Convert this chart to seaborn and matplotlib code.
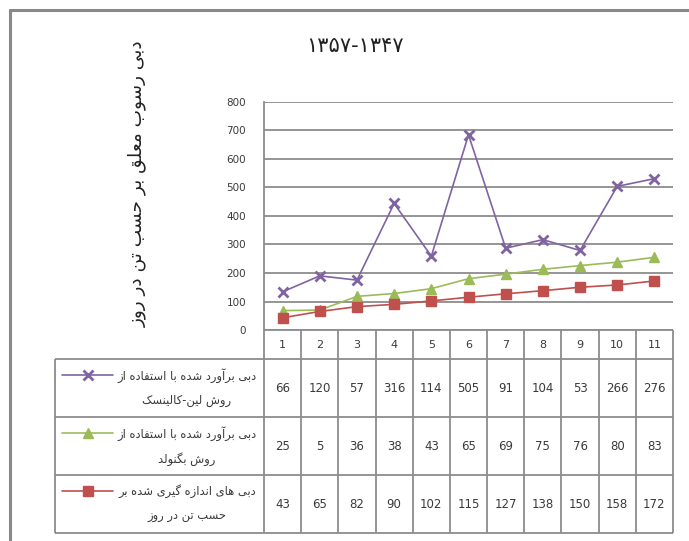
import numpy as np
import pandas as pd
import matplotlib
matplotlib.use("Agg")
import matplotlib.pyplot as plt
from matplotlib.lines import Line2D
import seaborn as sns

# values (lines are stacked)
years = list(range(1, 12))
lane_kalinske = [66, 120, 57, 316, 114, 505, 91, 104, 53, 266, 276]
bagnold = [25, 5, 36, 38, 43, 65, 69, 75, 76, 80, 83]
measured = [43, 65, 82, 90, 102, 115, 127, 138, 150, 158, 172]
yticks = [0, 100, 200, 300, 400, 500, 600, 700, 800]

title_text = "۱۳۵۷-۱۳۴۷"
ylabel_text = "دبی رسوب معلق بر حسب تن در روز"
row_labels = [
    ("دبی برآورد شده با استفاده از", "روش لین-کالینسک"),
    ("دبی برآورد شده با استفاده از", "روش بگنولد"),
    ("دبی های اندازه گیری شده بر", "حسب تن در روز"),
]

# simple persian shaping: (isolated, final, initial, medial)
forms = {
    "ا": ("\uFE8D", "\uFE8E"), "آ": ("\uFE81", "\uFE82"),
    "د": ("\uFEA9", "\uFEAA"), "ر": ("\uFEAD", "\uFEAE"),
    "ز": ("\uFEAF", "\uFEB0"), "و": ("\uFEED", "\uFEEE"),
    "ب": ("\uFE8F", "\uFE90", "\uFE91", "\uFE92"),
    "ت": ("\uFE95", "\uFE96", "\uFE97", "\uFE98"),
    "ح": ("\uFEA1", "\uFEA2", "\uFEA3", "\uFEA4"),
    "س": ("\uFEB1", "\uFEB2", "\uFEB3", "\uFEB4"),
    "ش": ("\uFEB5", "\uFEB6", "\uFEB7", "\uFEB8"),
    "ع": ("\uFEC9", "\uFECA", "\uFECB", "\uFECC"),
    "ف": ("\uFED1", "\uFED2", "\uFED3", "\uFED4"),
    "ق": ("\uFED5", "\uFED6", "\uFED7", "\uFED8"),
    "ل": ("\uFEDD", "\uFEDE", "\uFEDF", "\uFEE0"),
    "م": ("\uFEE1", "\uFEE2", "\uFEE3", "\uFEE4"),
    "ن": ("\uFEE5", "\uFEE6", "\uFEE7", "\uFEE8"),
    "ه": ("\uFEE9", "\uFEEA", "\uFEEB", "\uFEEC"),
    "ی": ("\uFBFC", "\uFBFD", "\uFBFE", "\uFBFF"),
    "ک": ("\uFB8E", "\uFB8F", "\uFB90", "\uFB91"),
    "گ": ("\uFB92", "\uFB93", "\uFB94", "\uFB95"),
}


def fa(text):
    out = []
    for i, c in enumerate(text):
        if c not in forms:
            out.append(c)
            continue
        f = forms[c]
        prev = text[i - 1] if i > 0 else ""
        nxt = text[i + 1] if i + 1 < len(text) else ""
        join_prev = prev in forms and len(forms[prev]) == 4
        join_next = len(f) == 4 and nxt in forms
        if join_prev and join_next:
            out.append(f[3])
        elif join_prev:
            out.append(f[1])
        elif join_next:
            out.append(f[2])
        else:
            out.append(f[0])
    return "".join(out)[::-1]


sns.set_style("white")
plt.rcParams["font.family"] = ["DejaVu Sans"]

df = pd.DataFrame({"year": years, "lk": lane_kalinske, "bg": bagnold, "ms": measured})
df["ms_line"] = df["ms"]
df["bg_line"] = df["ms"] + df["bg"]
df["lk_line"] = df["ms"] + df["bg"] + df["lk"]

purple, green, red = "#8064A2", "#9BBB59", "#C0504D"
grid_c = "#8c8c8c"
text_c = "#3a3a3a"

fig = plt.figure(figsize=(6.89, 5.41), dpi=100)
ax = fig.add_axes([264 / 689, 211 / 541, 409 / 689, 228 / 541])

series = [
    ("lk_line", purple, "x", 6.5, 2.0),
    ("bg_line", green, "^", 7, 1.0),
    ("ms_line", red, "s", 7, 1.0),
]
for col, c, m, ms, mew in series:
    sns.lineplot(data=df, x="year", y=col, ax=ax, color=c, marker=m,
                 markersize=ms, markeredgewidth=mew, markeredgecolor=c,
                 linewidth=1.2, zorder=3)

ax.set_xlim(0.5, 11.5)
ax.set_ylim(0, 800)
ax.set_yticks(yticks)
ax.set_xticks([])
ax.set_xlabel("")
ax.set_ylabel("")
ax.yaxis.grid(True, color=grid_c, linewidth=1.3)
ax.set_axisbelow(True)
for s in ["top", "right", "bottom"]:
    ax.spines[s].set_visible(False)
ax.spines["left"].set_color(grid_c)
ax.spines["left"].set_linewidth(1.3)
ax.tick_params(axis="y", length=0, pad=13, labelsize=7.5, labelcolor=text_c)

# data table under the plot
unit = 409 / 11
x0 = 0.5 - 209 / unit
tab = fig.add_axes([55 / 689, 8 / 541, 618 / 689, 203 / 541])
tab.set_xlim(x0, 11.5)
tab.set_ylim(3.5, 0)
tab.axis("off")

tab.hlines(0, 0.5, 11.5, color=grid_c, lw=1.3, clip_on=False)
tab.hlines([0.5, 1.5, 2.5, 3.5], x0, 11.5, color=grid_c, lw=1.3, clip_on=False)
tab.vlines(np.arange(0.5, 12, 1), 0, 3.5, color=grid_c, lw=1.3, clip_on=False)
tab.vlines(x0, 0.5, 3.5, color=grid_c, lw=1.3, clip_on=False)

for i, yr in enumerate(years):
    tab.text(yr, 0.25, str(yr), ha="center", va="center", fontsize=8, color=text_c)
    for r, vals in enumerate([lane_kalinske, bagnold, measured]):
        tab.text(yr, r + 1, str(vals[i]), ha="center", va="center",
                 fontsize=8.5, color=text_c)

key_x0 = (62 - 264) / unit + 0.5
key_x1 = (113 - 264) / unit + 0.5
label_x = (187 - 264) / unit + 0.5
for r, ((l1, l2), (col, c, m, ms, mew)) in enumerate(zip(row_labels, series)):
    yc = r + 1
    tab.plot([key_x0, key_x1], [yc - 0.22, yc - 0.22], color=c, lw=1.2)
    tab.plot([(key_x0 + key_x1) / 2], [yc - 0.22], color=c, marker=m,
             markersize=ms, markeredgewidth=mew, markeredgecolor=c)
    tab.text(label_x, yc - 0.22, fa(l1), ha="center", va="center",
             fontsize=8.3, color=text_c)
    tab.text(label_x, yc + 0.22, fa(l2), ha="center", va="center",
             fontsize=8.3, color=text_c)

fig.text(355 / 689, 1 - 46 / 541, title_text, ha="center", va="center",
         fontsize=15, color="#222222")
fig.text(137 / 689, 1 - 184 / 541, fa(ylabel_text), ha="center", va="center",
         rotation=90, fontsize=13.3, color="#222222")

# chart area border (left and top visible)
fig.add_artist(Line2D([9.5 / 689, 9.5 / 689], [0, 1 - 9.5 / 541],
                      transform=fig.transFigure, color="#888888", lw=2.2))
fig.add_artist(Line2D([9.5 / 689, 1], [1 - 9.5 / 541, 1 - 9.5 / 541],
                      transform=fig.transFigure, color="#888888", lw=2.2))

fig.savefig("out.png", dpi=100)
